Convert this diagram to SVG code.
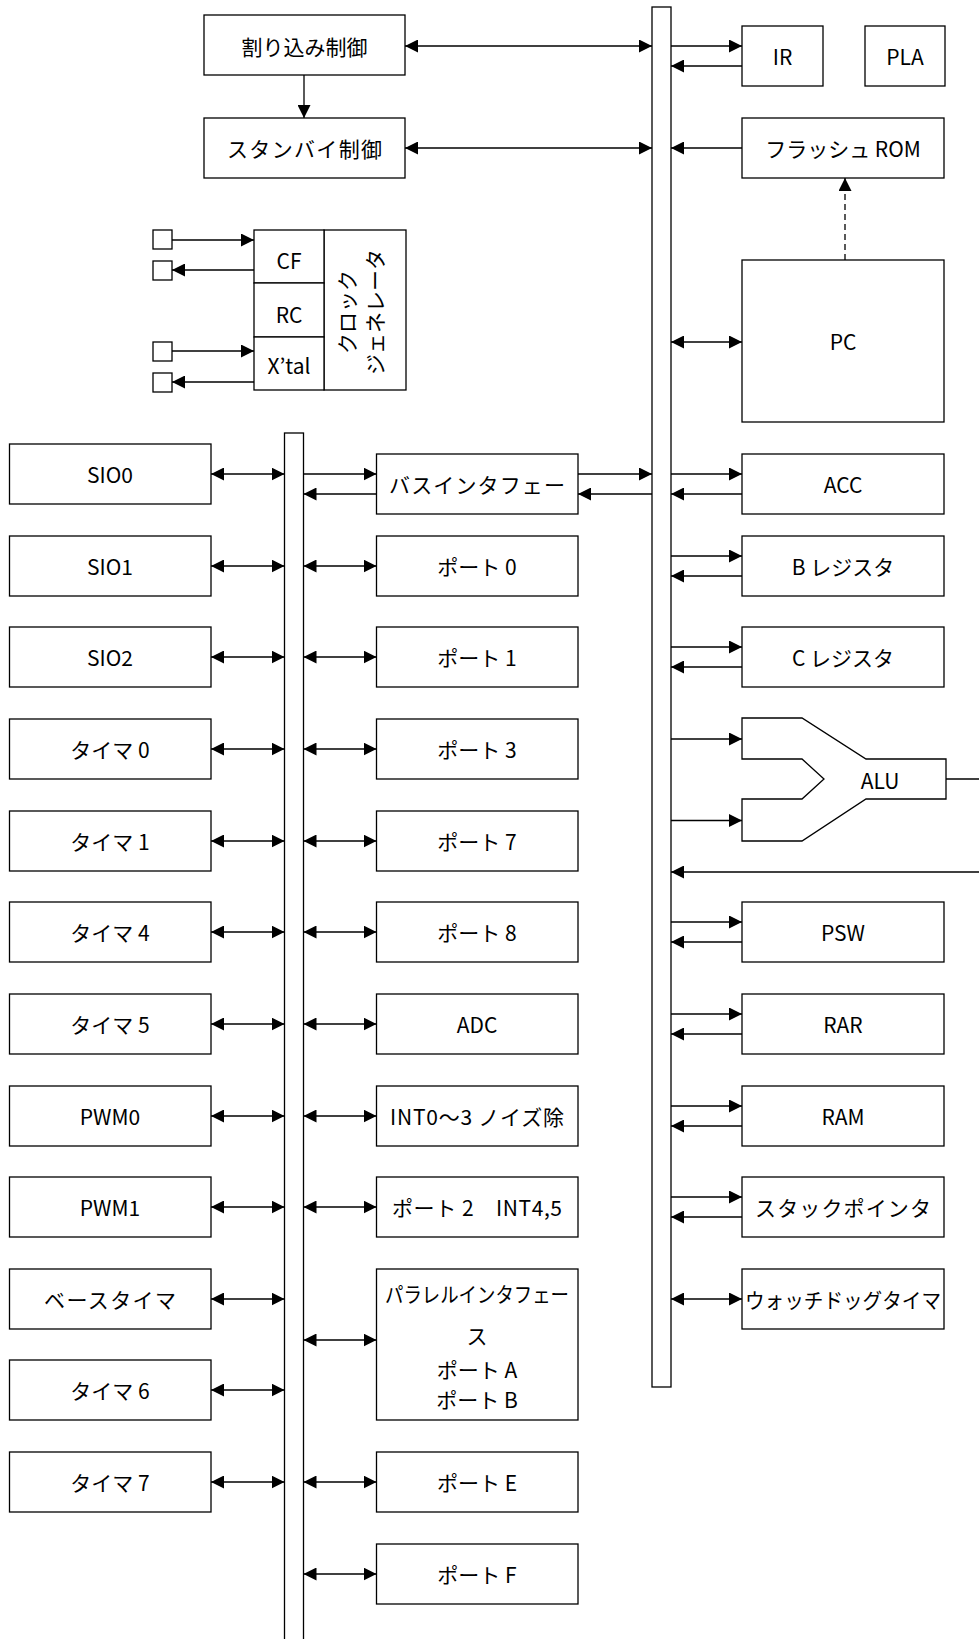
<svg xmlns="http://www.w3.org/2000/svg" width="979" height="1639" viewBox="0 0 979 1639">
<style>
.b{fill:#fff;stroke:#000;stroke-width:1.3}
.bus{fill:#fff;stroke:#000;stroke-width:1.3}
text{font-family:"Noto Sans CJK JP","Noto Sans",sans-serif;font-size:21px;fill:#000;text-anchor:middle;dominant-baseline:central}
.c{fill:none;stroke:#000;stroke-width:1.3;marker-end:url(#ah)}
.d{fill:none;stroke:#000;stroke-width:1.3;marker-start:url(#ah);marker-end:url(#ah)}
.p{fill:none;stroke:#000;stroke-width:1.3}
.dash{fill:none;stroke:#000;stroke-width:1.3;stroke-dasharray:6 4;marker-end:url(#ah)}
</style>
<defs>
<marker id="ah" viewBox="0 0 13 13" refX="13" refY="6.5" markerWidth="13" markerHeight="13" markerUnits="userSpaceOnUse" orient="auto-start-reverse"><path d="M0,0 L13,6.5 L0,13 z" fill="#000"/></marker>
</defs>
<rect x="0" y="0" width="979" height="1639" fill="#fff"/>

<g id="buses">
<rect id="main-bus" class="bus" x="652" y="7" width="19" height="1380"/>
<rect id="sub-bus" class="bus" x="284.5" y="433" width="19" height="1215"/>
</g>

<g id="connectors">
<path class="d" d="M405,46 L652,46"/>
<path class="c" d="M304,75 L304,118"/>
<path class="d" d="M405,148 L652,148"/>
<path class="c" d="M671,46 L742,46"/>
<path class="c" d="M742,66 L671,66"/>
<path class="c" d="M742,148 L671,148"/>
<path class="dash" d="M845,260 L845,178"/>
<path class="d" d="M671,342 L742,342"/>
<path class="c" d="M172,240 L254,240"/>
<path class="c" d="M254,270 L172,270"/>
<path class="c" d="M172,351 L254,351"/>
<path class="c" d="M254,382 L172,382"/>
<path class="c" d="M578,474 L652,474"/>
<path class="c" d="M652,494 L578,494"/>
<path class="c" d="M303.5,474 L376.5,474"/>
<path class="c" d="M376.5,494 L303.5,494"/>
<path class="c" d="M671,474 L742,474"/>
<path class="c" d="M742,494 L671,494"/>
<path class="c" d="M671,556 L742,556"/>
<path class="c" d="M742,576 L671,576"/>
<path class="c" d="M671,647 L742,647"/>
<path class="c" d="M742,667 L671,667"/>
<path class="c" d="M671,739 L742,739"/>
<path class="c" d="M671,820.5 L742,820.5"/>
<path class="p" d="M946,779 L985,779"/>
<path class="c" d="M985,872 L671,872"/>
<path class="c" d="M671,922 L742,922"/>
<path class="c" d="M742,942 L671,942"/>
<path class="c" d="M671,1014 L742,1014"/>
<path class="c" d="M742,1034 L671,1034"/>
<path class="c" d="M671,1106 L742,1106"/>
<path class="c" d="M742,1126 L671,1126"/>
<path class="c" d="M671,1197 L742,1197"/>
<path class="c" d="M742,1217 L671,1217"/>
<path class="d" d="M671,1299 L742,1299"/>
<path class="d" d="M211,474 L284.5,474"/>
<path class="d" d="M211,566 L284.5,566"/>
<path class="d" d="M211,657 L284.5,657"/>
<path class="d" d="M211,749 L284.5,749"/>
<path class="d" d="M211,841 L284.5,841"/>
<path class="d" d="M211,932 L284.5,932"/>
<path class="d" d="M211,1024 L284.5,1024"/>
<path class="d" d="M211,1116 L284.5,1116"/>
<path class="d" d="M211,1207 L284.5,1207"/>
<path class="d" d="M211,1299 L284.5,1299"/>
<path class="d" d="M211,1390 L284.5,1390"/>
<path class="d" d="M211,1482 L284.5,1482"/>
<path class="d" d="M303.5,566 L376.5,566"/>
<path class="d" d="M303.5,657 L376.5,657"/>
<path class="d" d="M303.5,749 L376.5,749"/>
<path class="d" d="M303.5,841 L376.5,841"/>
<path class="d" d="M303.5,932 L376.5,932"/>
<path class="d" d="M303.5,1024 L376.5,1024"/>
<path class="d" d="M303.5,1116 L376.5,1116"/>
<path class="d" d="M303.5,1207 L376.5,1207"/>
<path class="d" d="M303.5,1340 L376.5,1340"/>
<path class="d" d="M303.5,1482 L376.5,1482"/>
<path class="d" d="M303.5,1574 L376.5,1574"/>
</g>

<g id="interrupt"><rect class="b" x="204" y="15" width="201" height="60"/><text x="304.5" y="46">割り込み制御</text></g>
<g id="standby"><rect class="b" x="204" y="118" width="201" height="60"/><text x="304.5" y="148" textLength="155" lengthAdjust="spacing">スタンバイ制御</text></g>

<g id="clock">
<rect class="b" x="153" y="230" width="19" height="19"/>
<rect class="b" x="153" y="261" width="19" height="19"/>
<rect class="b" x="153" y="342" width="19" height="19"/>
<rect class="b" x="153" y="373" width="19" height="19"/>
<rect class="b" x="324" y="230" width="82" height="160"/>
<rect class="b" x="254" y="230" width="70" height="53"/>
<rect class="b" x="254" y="283" width="70" height="54"/>
<rect class="b" x="254" y="337" width="70" height="53"/>
<text x="289" y="260" font-size="20">CF</text>
<text x="289" y="314" font-size="20">RC</text>
<text x="289" y="365" font-size="20">X’tal</text>
<text transform="rotate(-90 360 312)" font-size="19"><tspan x="360" y="298">クロック</tspan><tspan x="360" y="326">ジェネレータ</tspan></text>
</g>

<g id="ir"><rect class="b" x="742" y="26" width="81" height="60"/><text x="782.5" y="56">IR</text></g>
<g id="pla"><rect class="b" x="865" y="26" width="80" height="60"/><text x="905" y="56">PLA</text></g>
<g id="flash"><rect class="b" x="742" y="118" width="202" height="60"/><text x="843" y="148">フラッシュ ROM</text></g>
<g id="pc"><rect class="b" x="742" y="260" width="202" height="162"/><text x="843" y="341">PC</text></g>
<g id="acc"><rect class="b" x="742" y="454" width="202" height="60"/><text x="843" y="484">ACC</text></g>
<g id="breg"><rect class="b" x="742" y="536" width="202" height="60"/><text x="843" y="566">B レジスタ</text></g>
<g id="creg"><rect class="b" x="742" y="627" width="202" height="60"/><text x="843" y="657">C レジスタ</text></g>
<g id="alu"><path class="b" d="M742,718 L802,718 L866,759 L946,759 L946,799 L866,799 L802,841 L742,841 L742,799 L802,799 L824,779 L802,759 L742,759 Z"/><text x="880" y="780">ALU</text></g>
<g id="psw"><rect class="b" x="742" y="902" width="202" height="60"/><text x="843" y="932">PSW</text></g>
<g id="rar"><rect class="b" x="742" y="994" width="202" height="60"/><text x="843" y="1024">RAR</text></g>
<g id="ram"><rect class="b" x="742" y="1086" width="202" height="60"/><text x="843" y="1116">RAM</text></g>
<g id="sp"><rect class="b" x="742" y="1177" width="202" height="60"/><text x="843" y="1207" textLength="176" lengthAdjust="spacing">スタックポインタ</text></g>
<g id="wdt"><rect class="b" x="742" y="1269" width="202" height="60"/><text x="843" y="1299" textLength="196" lengthAdjust="spacingAndGlyphs">ウォッチドッグタイマ</text></g>

<g id="busif"><rect class="b" x="376.5" y="454" width="201.5" height="60"/><text x="477" y="484" textLength="176" lengthAdjust="spacing">バスインタフェー</text></g>
<g id="port0"><rect class="b" x="376.5" y="536" width="201.5" height="60"/><text x="477" y="566">ポート 0</text></g>
<g id="port1"><rect class="b" x="376.5" y="627" width="201.5" height="60"/><text x="477" y="657">ポート 1</text></g>
<g id="port3"><rect class="b" x="376.5" y="719" width="201.5" height="60"/><text x="477" y="749">ポート 3</text></g>
<g id="port7"><rect class="b" x="376.5" y="811" width="201.5" height="60"/><text x="477" y="841">ポート 7</text></g>
<g id="port8"><rect class="b" x="376.5" y="902" width="201.5" height="60"/><text x="477" y="932">ポート 8</text></g>
<g id="adc"><rect class="b" x="376.5" y="994" width="201.5" height="60"/><text x="477" y="1024">ADC</text></g>
<g id="int03"><rect class="b" x="376.5" y="1086" width="201.5" height="60"/><text x="477" y="1116" textLength="174" lengthAdjust="spacing">INT0～3 ノイズ除</text></g>
<g id="port2"><rect class="b" x="376.5" y="1177" width="201.5" height="60"/><text x="477" y="1207" textLength="170" lengthAdjust="spacing">ポート 2　INT4,5</text></g>
<g id="parallel"><rect class="b" x="376.5" y="1269" width="201.5" height="151"/>
<text x="477" y="1293" textLength="184" lengthAdjust="spacingAndGlyphs">パラレルインタフェー</text>
<text x="477" y="1335">ス</text>
<text x="477" y="1369">ポート A</text>
<text x="477" y="1399">ポート B</text></g>
<g id="portE"><rect class="b" x="376.5" y="1452" width="201.5" height="60"/><text x="477" y="1482">ポート E</text></g>
<g id="portF"><rect class="b" x="376.5" y="1544" width="201.5" height="60"/><text x="477" y="1574">ポート F</text></g>

<g id="sio0"><rect class="b" x="9.5" y="444" width="201.5" height="60"/><text x="110" y="474">SIO0</text></g>
<g id="sio1"><rect class="b" x="9.5" y="536" width="201.5" height="60"/><text x="110" y="566">SIO1</text></g>
<g id="sio2"><rect class="b" x="9.5" y="627" width="201.5" height="60"/><text x="110" y="657">SIO2</text></g>
<g id="timer0"><rect class="b" x="9.5" y="719" width="201.5" height="60"/><text x="110" y="749">タイマ 0</text></g>
<g id="timer1"><rect class="b" x="9.5" y="811" width="201.5" height="60"/><text x="110" y="841">タイマ 1</text></g>
<g id="timer4"><rect class="b" x="9.5" y="902" width="201.5" height="60"/><text x="110" y="932">タイマ 4</text></g>
<g id="timer5"><rect class="b" x="9.5" y="994" width="201.5" height="60"/><text x="110" y="1024">タイマ 5</text></g>
<g id="pwm0"><rect class="b" x="9.5" y="1086" width="201.5" height="60"/><text x="110" y="1116">PWM0</text></g>
<g id="pwm1"><rect class="b" x="9.5" y="1177" width="201.5" height="60"/><text x="110" y="1207">PWM1</text></g>
<g id="basetimer"><rect class="b" x="9.5" y="1269" width="201.5" height="60"/><text x="110" y="1299" textLength="132" lengthAdjust="spacing">ベースタイマ</text></g>
<g id="timer6"><rect class="b" x="9.5" y="1360" width="201.5" height="60"/><text x="110" y="1390">タイマ 6</text></g>
<g id="timer7"><rect class="b" x="9.5" y="1452" width="201.5" height="60"/><text x="110" y="1482">タイマ 7</text></g>
</svg>
